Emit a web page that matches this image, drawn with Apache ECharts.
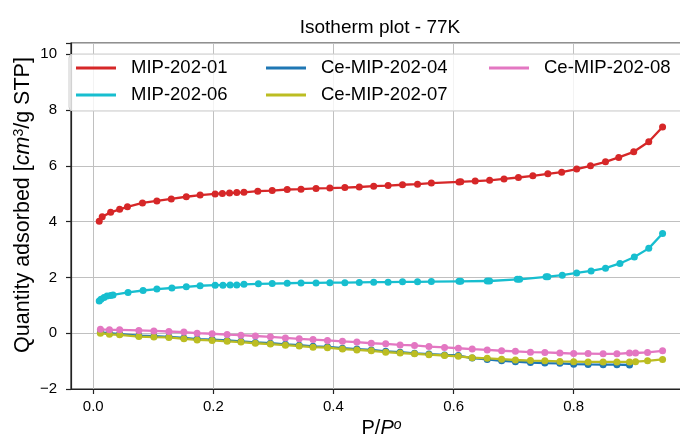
<!DOCTYPE html>
<html><head><meta charset="utf-8">
<script src="https://cdn.jsdelivr.net/npm/echarts@6/dist/echarts.min.js"></script>
<style>html,body{margin:0;padding:0;background:#fff}#c{width:680px;height:438px}</style>
</head><body><div id="c"></div>
<script>
// ---- data ----
const titleText = 'Isotherm plot - 77K';
const seriesNames = ['MIP-202-01', 'MIP-202-06', 'Ce-MIP-202-04', 'Ce-MIP-202-07', 'Ce-MIP-202-08'];
const xTicks = [0, 0.2, 0.4, 0.6, 0.8];
const yTicks = [-2, 0, 2, 4, 6, 8, 10];

const x_mip01 = [0.01,0.015,0.029,0.044,0.057,0.082,0.106,0.13,0.155,0.178,0.203,0.215,0.227,0.239,0.251,0.274,0.298,0.323,0.346,0.371,0.394,0.419,0.443,0.467,0.491,0.515,0.54,0.563,0.609,0.612,0.636,0.66,0.684,0.708,0.732,0.757,0.78,0.805,0.828,0.853,0.875,0.9,0.925,0.948];
const y_mip01 = [4.01,4.17,4.33,4.44,4.53,4.67,4.74,4.81,4.89,4.95,4.99,5.01,5.02,5.04,5.05,5.09,5.11,5.15,5.16,5.19,5.20,5.22,5.24,5.27,5.29,5.32,5.34,5.38,5.42,5.43,5.45,5.48,5.53,5.58,5.64,5.71,5.77,5.88,6.00,6.14,6.30,6.50,6.86,7.39];

const x_mip06 = [0.01,0.013,0.018,0.023,0.029,0.033,0.058,0.083,0.106,0.131,0.155,0.178,0.203,0.216,0.228,0.239,0.251,0.275,0.298,0.323,0.346,0.371,0.394,0.419,0.443,0.467,0.491,0.515,0.54,0.563,0.609,0.612,0.656,0.66,0.706,0.71,0.754,0.757,0.781,0.805,0.829,0.853,0.877,0.901,0.925,0.948];
const y_mip06 = [1.15,1.22,1.28,1.33,1.35,1.37,1.46,1.53,1.58,1.62,1.66,1.70,1.72,1.72,1.73,1.73,1.75,1.77,1.78,1.79,1.80,1.80,1.81,1.81,1.82,1.83,1.83,1.84,1.84,1.85,1.86,1.86,1.87,1.87,1.93,1.93,2.02,2.02,2.08,2.16,2.23,2.33,2.50,2.73,3.04,3.57];

const x_ce = [0.012,0.027,0.044,0.076,0.101,0.126,0.151,0.173,0.198,0.223,0.246,0.27,0.295,0.32,0.343,0.366,0.39,0.415,0.439,0.463,0.487,0.511,0.535,0.559,0.585,0.608,0.631,0.656,0.68,0.703,0.728,0.752,0.777,0.8,0.824,0.849,0.872,0.893,0.903,0.923,0.948];
const y_ce04 = [0.03,0.0,-0.03,-0.09,-0.11,-0.13,-0.17,-0.21,-0.23,-0.26,-0.29,-0.33,-0.36,-0.40,-0.43,-0.47,-0.49,-0.54,-0.57,-0.60,-0.65,-0.68,-0.72,-0.75,-0.78,-0.80,-0.89,-0.94,-0.99,-1.02,-1.05,-1.07,-1.08,-1.11,-1.12,-1.13,-1.13,-1.14];
const y_ce07 = [0.0,-0.04,-0.06,-0.12,-0.14,-0.15,-0.20,-0.24,-0.26,-0.29,-0.32,-0.36,-0.39,-0.43,-0.46,-0.50,-0.52,-0.57,-0.60,-0.63,-0.68,-0.71,-0.74,-0.77,-0.80,-0.83,-0.88,-0.90,-0.93,-0.96,-0.98,-0.99,-1.01,-1.02,-1.03,-1.03,-1.03,-1.03,-1.02,-0.99,-0.94];
const y_ce08 = [0.14,0.12,0.12,0.10,0.08,0.06,0.04,0.0,-0.02,-0.05,-0.07,-0.10,-0.13,-0.17,-0.20,-0.23,-0.26,-0.29,-0.32,-0.36,-0.38,-0.42,-0.44,-0.48,-0.51,-0.54,-0.57,-0.60,-0.63,-0.65,-0.68,-0.69,-0.71,-0.73,-0.73,-0.74,-0.74,-0.71,-0.71,-0.69,-0.63];

const colors = ['#d62728', '#17becf', '#1f77b4', '#bcbd22', '#e377c2'];
// ---- chart ----
const FONT = '"Liberation Sans", Arial, Helvetica, sans-serif';
const zip = (xs, ys) => ys.map((y, i) => [xs[i], y]);
const seriesData = [zip(x_mip01, y_mip01), zip(x_mip06, y_mip06), zip(x_ce, y_ce04), zip(x_ce, y_ce07), zip(x_ce, y_ce08)];

const chart = echarts.init(document.getElementById('c'), null, {renderer: 'canvas'});
const legendPos = [[76, 58], [76, 85], [266, 58], [266, 85], [489, 58]];
const fmtNum = v => (v < 0 ? '\u2212' + Math.abs(v) : String(v));

chart.setOption({
  animation: false,
  backgroundColor: '#fff',
  title: {
    text: titleText, left: 380, top: 18, textAlign: 'center', padding: 0,
    textStyle: {fontFamily: FONT, fontSize: 19, fontWeight: 'normal', color: '#000'}
  },
  graphic: [{
    type: 'rect', z: 3, shape: {x: 69, y: 54, width: 640, height: 57, r: 4},
    style: {fill: 'rgba(255,255,255,0.8)', stroke: '#cccccc', lineWidth: 1}
  }],
  legend: seriesNames.map((n, i) => ({
    data: [n], left: legendPos[i][0], top: legendPos[i][1], padding: 0, z: 5,
    icon: 'rect', itemWidth: 40, itemHeight: 3,
    textStyle: {fontFamily: FONT, fontSize: 18.5, color: '#000', lineHeight: 20, padding: [0, 0, 0, 10]}
  })),
  grid: {left: 71, top: 43, width: 621, height: 346, outerBoundsMode: 'none', containLabel: false,
         show: true, borderColor: '#222', borderWidth: 1.2, backgroundColor: 'transparent'},
  xAxis: {
    type: 'value', min: -0.037, max: 0.997,
    name: '{a|P/}{i|P}{s|o}', nameLocation: 'middle', nameGap: 29, nameMoveOverlap: false,
    nameTextStyle: {fontFamily: FONT, fontSize: 20, color: '#000',
      rich: {a: {fontFamily: FONT, fontSize: 20, color: '#000'}, i: {fontFamily: FONT, fontSize: 20, fontStyle: 'italic', color: '#000'},
             s: {fontFamily: FONT, fontSize: 14, fontStyle: 'italic', color: '#000', verticalAlign: 'top'}}},
    axisLine: {show: true, onZero: false, lineStyle: {color: '#222', width: 1.2}},
    axisTick: {show: true, customValues: xTicks, length: 5, lineStyle: {color: '#222', width: 1.2}},
    axisLabel: {customValues: xTicks, margin: 10, fontFamily: FONT, fontSize: 15, color: '#000', formatter: v => v.toFixed(1)},
    splitLine: {show: true, customValues: xTicks, lineStyle: {color: '#c0c0c0', width: 1}}
  },
  yAxis: {
    type: 'value', min: -2, max: 10.4, interval: 2,
    name: '{a|Quantity adsorbed [}{i|cm}{s|3}{a|/g STP]}', nameLocation: 'middle', nameGap: 37, nameRotate: 90,
    nameMoveOverlap: false,
    nameTextStyle: {fontFamily: FONT, fontSize: 21.5, color: '#000', padding: [0, 0, 0, 22],
      rich: {a: {fontFamily: FONT, fontSize: 21.5, color: '#000'}, i: {fontFamily: FONT, fontSize: 21.5, fontStyle: 'italic', color: '#000'},
             s: {fontFamily: FONT, fontSize: 14, color: '#000', verticalAlign: 'top'}}},
    axisLine: {show: true, onZero: false, lineStyle: {color: '#222', width: 1.2}},
    axisTick: {show: true, length: 5, lineStyle: {color: '#222', width: 1.2}},
    axisLabel: {margin: 14, fontFamily: FONT, fontSize: 15, color: '#000',
      formatter: v => (yTicks.indexOf(Math.round(v * 1000) / 1000) >= 0 ? fmtNum(v) : '')},
    splitLine: {show: true, lineStyle: {color: '#c0c0c0', width: 1}}
  },
  series: seriesNames.map((n, i) => ({
    name: n, type: 'line', data: seriesData[i], color: colors[i],
    symbol: 'circle', symbolSize: 7, showSymbol: true,
    lineStyle: {width: 2.3, color: colors[i]}, itemStyle: {color: colors[i]},
    emphasis: {disabled: true}, clip: true
  }))
});
</script></body></html>
